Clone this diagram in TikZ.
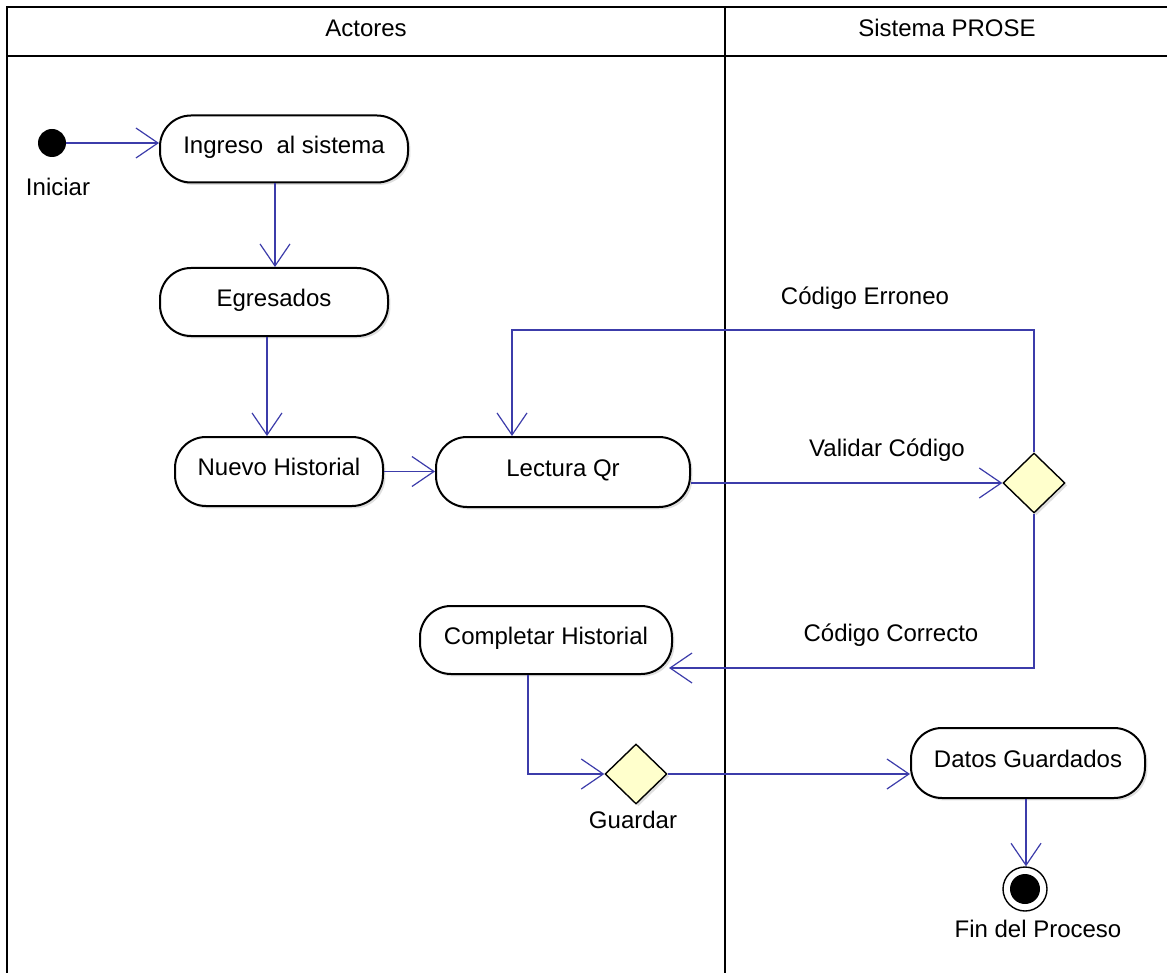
\documentclass[tikz,border=0pt]{standalone}
\usepackage{fontspec}
\setmainfont{Liberation Sans}
\usetikzlibrary{arrows.meta,shapes.geometric,shadows}
\definecolor{flow}{RGB}{60,60,170}
\definecolor{decfill}{RGB}{255,255,204}
\newcommand\uptxt[1]{\raisebox{0.8pt}[\height][0pt]{#1}}
\begin{document}
\begin{tikzpicture}[x=0.5pt,y=-0.5pt,
  every node/.style={font=\fontsize{12}{14}\selectfont},
  act/.style={draw=black, line width=1pt, fill=white, rounded corners=15.5pt, inner sep=0pt,
    text height=9pt, text depth=3pt,
    drop shadow={shadow xshift=1.2pt,shadow yshift=-1.2pt,opacity=0.25}},
  dec/.style={diamond, draw=black, line width=0.7pt, fill=decfill, inner sep=0pt,
    minimum width=31pt, minimum height=30pt,
    drop shadow={shadow xshift=1.2pt,shadow yshift=-1.2pt,opacity=0.25}},
  flowline/.style={draw=flow, line width=0.8pt, -{Straight Barb[length=11pt,width=15pt,line width=0.6pt]}},
  lane/.style={draw=black, line width=1.2pt},
  lbl/.style={inner sep=0pt}
]
\useasboundingbox (0,0) rectangle (1167,973);
% swimlanes
\draw[lane] (1167,7) -- (7,7) -- (7,973);
\draw[lane] (7,56) -- (1167,56);
\draw[lane] (725,7) -- (725,973);
\node[lbl] (hA) at (366,28) {Actores};
\node[lbl] (hS) at (947,28) {Sistema PROSE};

% start
\node[circle, fill=black, minimum size=14pt, inner sep=0pt] (start) at (52,143) {};
\node[lbl] (lstart) at (58,187) {Iniciar};

% activities
\node[act, minimum width=124pt, minimum height=33.5pt] (ingreso) at (284,149) {\uptxt{Ingreso\ \ al sistema}};
\node[act, minimum width=114pt, minimum height=34pt] (egresados) at (274,302) {\uptxt{Egresados}};
\node[act, minimum width=104pt, minimum height=34.5pt] (nuevo) at (279,471.5) {\uptxt{Nuevo Historial}};
\node[act, minimum width=127pt, minimum height=35pt] (lectura) at (563,472) {\uptxt{Lectura Qr}};
\node[act, minimum width=126pt, minimum height=34pt] (completar) at (546,640) {\uptxt{Completar Historial}};
\node[act, minimum width=117pt, minimum height=35pt] (datos) at (1028,763) {\uptxt{Datos Guardados}};

% decisions
\node[dec] (d1) at (1034,483) {};
\node[dec] (d2) at (636,774) {};
\node[lbl] (lguardar) at (633,820) {Guardar};

% end
\node[circle, draw=black, line width=0.7pt, fill=white, minimum size=22pt, inner sep=0pt] (fin) at (1025,889) {};
\node[circle, fill=black, minimum size=15pt, inner sep=0pt] (finin) at (fin.center) {};
\node[lbl] (lfin) at (1038,929) {Fin del Proceso};

% labels
\node[lbl] (lvalidar) at (887,450) {Validar Código};
\node[lbl] (lerroneo) at (865,298) {Código Erroneo};
\node[lbl] (lcorrecto) at (891,635) {Código Correcto};

% connectors
\draw[flowline] (start) -- (start -| ingreso.west);
\draw[flowline] (ingreso.south) ++(-9,0) coordinate (a1) -- (a1 |- egresados.north);
\draw[flowline] (egresados.south) ++(-7,0) coordinate (a2) -- (a2 |- nuevo.north);
\draw[flowline] (nuevo.east) -- (nuevo.east -| lectura.west);
\draw[flowline] (lectura.east) ++(0,11) coordinate (a4) -- (a4 -| d1.west);
\coordinate (loopy) at (0,330);
\coordinate (lq) at ([xshift=-25.5pt]lectura.north);
\draw[flowline] (d1.north) |- (loopy -| lq) -- (lq);
\coordinate (cin) at ([xshift=-2pt,yshift=-14pt]completar.east);
\draw[flowline] (d1.south) |- (cin);
\draw[flowline] (completar.south) ++(-18,0) coordinate (a7) |- (d2.west);
\draw[flowline] (d2.east) -- (d2.east -| datos.west);
\draw[flowline] (datos.south) ++(-2,0) coordinate (a9) -- (a9 |- fin.north);
\end{tikzpicture}
\end{document}
